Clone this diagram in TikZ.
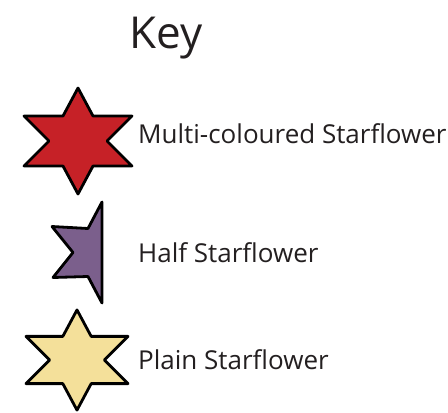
\documentclass[tikz,border=0pt]{standalone}
\usepackage{fontspec}
\setmainfont{Open Sans}
\definecolor{starred}{HTML}{C62127}
\definecolor{starpurple}{HTML}{7B5F8C}
\definecolor{staryellow}{HTML}{F4E09A}
\definecolor{txt}{HTML}{231F20}
\begin{document}
\begin{tikzpicture}[x=1pt,y=1pt,
  starline/.style={draw=black,line width=2.8pt,line join=round},
  label/.style={anchor=base west,inner sep=0pt,text=txt,font=\fontsize{26}{30}\selectfont}]
\useasboundingbox (0,0) rectangle (448,-413);
% red star
\begin{scope}[shift={(78,-141)}]
\draw[starline,fill=starred] (0,53) -- (15,25) -- (54,25) -- (29,0) -- (54,-25) -- (15,-25) -- (0,-53) -- (-15,-25) -- (-54,-25) -- (-29,0) -- (-54,25) -- (-15,25) -- cycle;
\end{scope}
% purple half star
\begin{scope}[shift={(102,-252.5)}]
\draw[starline,fill=starpurple] (0,50.5) -- (-14,24) -- (-50,26) -- (-29,0) -- (-49,-25) -- (-14,-24) -- (0,-50.5) -- cycle;
\end{scope}
% yellow star
\begin{scope}[shift={(77,-360)},scale=0.945]
\draw[starline,fill=staryellow] (0,53) -- (15,25) -- (54,25) -- (29,0) -- (54,-25) -- (15,-25) -- (0,-53) -- (-15,-25) -- (-54,-25) -- (-29,0) -- (-54,25) -- (-15,25) -- cycle;
\end{scope}
\node[anchor=base west,inner sep=0pt,text=txt,font=\fontsize{44}{50}\selectfont] (key) at (129,-48) {Key};
\node[label] (multi) at (138,-143) {Multi-coloured Starflower};
\node[label] (half) at (138,-262) {Half Starflower};
\node[label] (plain) at (138,-369) {Plain Starflower};
\end{tikzpicture}
\end{document}
